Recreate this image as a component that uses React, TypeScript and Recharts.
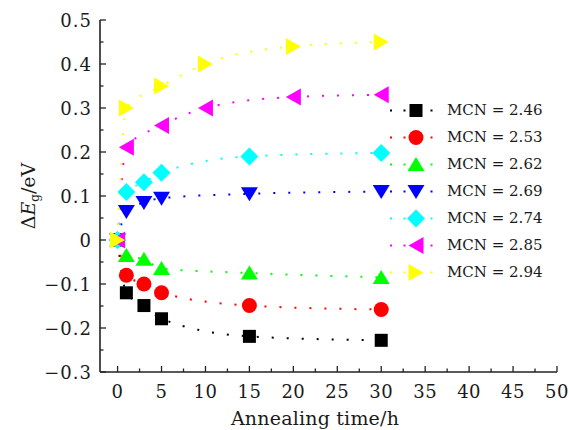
import React from 'react';
import { LineChart, Line, XAxis, YAxis, Legend, Label } from 'recharts';

// ---------- data ----------
const seriesNames = ['MCN = 2.46', 'MCN = 2.53', 'MCN = 2.62', 'MCN = 2.69', 'MCN = 2.74', 'MCN = 2.85', 'MCN = 2.94'];
const timesA = [0, 1, 3, 5, 15, 30];
const timesB = [0, 1, 5, 10, 20, 30];
const mcn246 = [0, -0.12, -0.149, -0.179, -0.219, -0.228];
const mcn253 = [0, -0.08, -0.1, -0.12, -0.149, -0.158];
const mcn262 = [0, -0.035, -0.044, -0.065, -0.075, -0.085];
const mcn269 = [0, 0.065, 0.085, 0.095, 0.105, 0.11];
const mcn274 = [0, 0.109, 0.131, 0.153, 0.19, 0.198];
const mcn285 = [0, 0.211, 0.26, 0.3, 0.325, 0.33];
const mcn294 = [0, 0.3, 0.35, 0.4, 0.44, 0.45];

const xTicks = [0, 2.5, 5, 7.5, 10, 12.5, 15, 17.5, 20, 22.5, 25, 27.5, 30, 32.5, 35, 37.5, 40, 42.5, 45, 47.5, 50];
const yTicks = [-0.3, -0.25, -0.2, -0.15, -0.1, -0.05, 0, 0.05, 0.1, 0.15, 0.2, 0.25, 0.3, 0.35, 0.4, 0.45, 0.5];

const colors = ['#000000', '#ff0000', '#00ff00', '#0000ff', '#00ffff', '#ff00ff', '#ffff00'];
const shapes = ['square', 'circle', 'triUp', 'triDown', 'diamond', 'triLeft', 'triRight'];

const seriesTimes = [timesA, timesA, timesA, timesA, timesA, timesB, timesB];
const seriesValues = [mcn246, mcn253, mcn262, mcn269, mcn274, mcn285, mcn294];
const seriesData = seriesValues.map((vals, i) => vals.map((y, j) => ({ x: seriesTimes[i][j], y })));

// ---------- styling ----------
const FONT = 'DejaVu Serif';
const AXIS = '#222';
const TEXT = '#1a1a1a';

function marker(shape: string, cx: number, cy: number, color: string, key?: any) {
  switch (shape) {
    case 'square':
      return <rect key={key} x={cx - 6.5} y={cy - 6.5} width={13} height={13} fill={color} />;
    case 'circle':
      return <circle key={key} cx={cx} cy={cy} r={7.5} fill={color} />;
    case 'triUp':
      return <polygon key={key} points={`${cx},${cy - 7.5} ${cx + 8.5},${cy + 6.5} ${cx - 8.5},${cy + 6.5}`} fill={color} />;
    case 'triDown':
      return <polygon key={key} points={`${cx - 8.5},${cy - 6.5} ${cx + 8.5},${cy - 6.5} ${cx},${cy + 7.5}`} fill={color} />;
    case 'diamond':
      return <polygon key={key} points={`${cx},${cy - 9} ${cx + 9},${cy} ${cx},${cy + 9} ${cx - 9},${cy}`} fill={color} />;
    case 'triLeft':
      return <polygon key={key} points={`${cx - 7.5},${cy} ${cx + 7.5},${cy - 8.5} ${cx + 7.5},${cy + 8.5}`} fill={color} />;
    case 'triRight':
      return <polygon key={key} points={`${cx + 7.5},${cy} ${cx - 7.5},${cy - 8.5} ${cx - 7.5},${cy + 8.5}`} fill={color} />;
    default:
      return null;
  }
}

const fmtY = (v: number) => {
  if (Math.abs(v) < 1e-9) return '0';
  return (v < 0 ? '\u2212' : '') + Math.abs(v).toFixed(1);
};

const XTick = (props: any) => {
  const { x, y, payload } = props;
  const v = payload.value;
  const major = Math.abs(v / 5 - Math.round(v / 5)) < 1e-6;
  return (
    <g>
      <line x1={x} y1={y} x2={x} y2={y - (major ? 6 : 3.5)} stroke={AXIS} strokeWidth={1.3} />
      {major && (
        <text x={x} y={y + 26} textAnchor="middle" fontFamily={FONT} fontSize={18} letterSpacing={0.5} fill={TEXT}>
          {String(v)}
        </text>
      )}
    </g>
  );
};

const YTick = (props: any) => {
  const { x, y, payload } = props;
  const v = payload.value;
  const major = Math.abs(v * 10 - Math.round(v * 10)) < 1e-6;
  return (
    <g>
      <line x1={x} y1={y} x2={x + (major ? 6 : 3.5)} y2={y} stroke={AXIS} strokeWidth={1.3} />
      {major && (
        <text x={x - 8} y={y + 6.5} textAnchor="end" fontFamily={FONT} fontSize={18} letterSpacing={1} fill={TEXT}>
          {fmtY(v)}
        </text>
      )}
    </g>
  );
};

const renderLegend = () => (
  <div style={{ fontFamily: FONT, fontSize: 15, color: TEXT }}>
    {seriesNames.map((name, i) => (
      <div key={i} style={{ display: 'flex', alignItems: 'center', height: 27 }}>
        <svg width={58} height={27} style={{ display: 'block' }}>
          <line x1={1} y1={13.5} x2={53} y2={13.5} stroke={colors[i]} strokeWidth={2} strokeDasharray="2 11.5" />
          {marker(shapes[i], 27, 13.5, colors[i])}
        </svg>
        <span style={{ whiteSpace: 'pre', lineHeight: '27px' }}>{name}</span>
      </div>
    ))}
  </div>
);

export default function App() {
  return (
    <div style={{ position: 'absolute', left: 0, top: 0, background: '#fff' }}>
      <LineChart width={569} height={430} margin={{ top: 20, right: 12, bottom: 0, left: 0 }}>
        <XAxis
          type="number"
          dataKey="x"
          domain={[-2, 50]}
          ticks={xTicks}
          interval={0}
          tickSize={0}
          tickMargin={0}
          tickLine={false}
          tick={<XTick />}
          height={58}
          axisLine={{ stroke: AXIS, strokeWidth: 1.6 }}
          allowDataOverflow
        >
          <Label
            content={() => (
              <text x={315} y={425} textAnchor="middle" fontFamily={FONT} fontSize={19} letterSpacing={0.2} fill={TEXT}>
                Annealing time/h
              </text>
            )}
          />
        </XAxis>
        <XAxis
          xAxisId="top"
          orientation="top"
          type="number"
          domain={[-2, 50]}
          height={0}
          tick={false}
          tickLine={false}
          axisLine={{ stroke: AXIS, strokeWidth: 1.6 }}
        />
        <YAxis
          type="number"
          domain={[-0.3, 0.5]}
          ticks={yTicks}
          interval={0}
          tickSize={0}
          tickMargin={0}
          tickLine={false}
          tick={<YTick />}
          width={100}
          axisLine={{ stroke: AXIS, strokeWidth: 1.6 }}
          allowDataOverflow
        >
          <Label
            content={() => (
              <text transform="translate(35,196) rotate(-90)" textAnchor="middle" fontFamily={FONT} fontSize={19} fill={TEXT}>
                <tspan>Δ</tspan>
                <tspan fontStyle="italic">E</tspan>
                <tspan fontSize={12} dy={4}>g</tspan>
                <tspan dy={-4}>/eV</tspan>
              </text>
            )}
          />
        </YAxis>
        <YAxis
          yAxisId="right"
          orientation="right"
          type="number"
          domain={[-0.3, 0.5]}
          width={0}
          tick={false}
          tickLine={false}
          axisLine={{ stroke: AXIS, strokeWidth: 1.6 }}
        />
        {seriesData.map((d, i) => (
          <Line
            key={seriesNames[i]}
            data={d}
            dataKey="y"
            name={seriesNames[i]}
            type="monotone"
            stroke={colors[i]}
            strokeWidth={2}
            strokeDasharray="2 13"
            dot={(p: any) => marker(shapes[i], p.cx, p.cy, colors[i], `d-${i}-${p.index}`)}
            activeDot={false}
            isAnimationActive={false}
          />
        ))}
        <Legend
          layout="vertical"
          align="center"
          verticalAlign="middle"
          content={renderLegend}
          wrapperStyle={{ position: 'absolute', left: 389, top: 96.5, width: 170, height: 189 }}
        />
      </LineChart>
    </div>
  );
}
